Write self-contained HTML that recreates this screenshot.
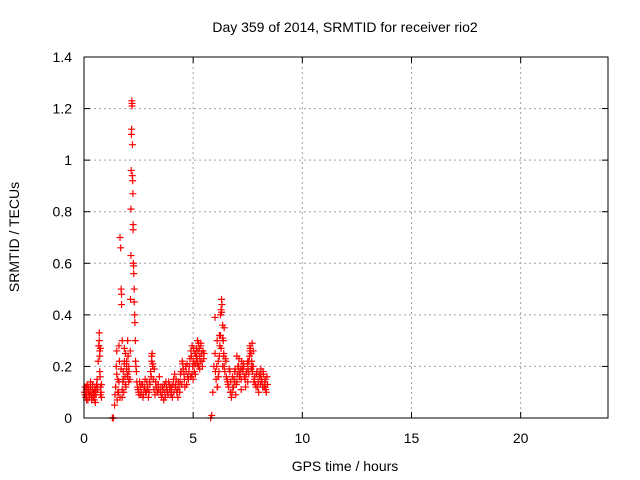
<!DOCTYPE html>
<html><head><meta charset="utf-8"><style>
body{margin:0;background:#fff;width:640px;height:480px;overflow:hidden}
svg{display:block;font-family:"Liberation Sans",sans-serif}
</style></head><body>
<svg id="chart" width="640" height="480">
<rect width="640" height="480" fill="#fff"/>
<text x="345" y="32" font-size="14" text-anchor="middle">Day 359 of 2014, SRMTID for receiver rio2</text>
<g id="grid"></g>
<g id="ticks"></g>
<g id="marks"></g>
<rect x="84" y="57" width="524" height="361" fill="none" stroke="#000" stroke-width="1"/>
<text x="345" y="471" font-size="14" text-anchor="middle">GPS time / hours</text>
<text x="19" y="237" font-size="14" text-anchor="middle" transform="rotate(-90 19 237)">SRMTID / TECUs</text>
</svg>
<script>
const xTicks=[0,5,10,15,20];
const yTicks=[0,0.2,0.4,0.6,0.8,1,1.2,1.4];
const yLabels=["0","0.2","0.4","0.6","0.8","1","1.2","1.4"];
const times=[0.02,0.05,0.08,0.1,0.12,0.15,0.18,0.2,0.22,0.25,0.28,0.3,0.33,0.35,0.38,0.4,0.43,0.45,0.48,0.5,0.52,0.55,0.58,0.6,0.62,0.65,0.68,0.7,0.7,0.72,0.72,0.74,0.75,0.75,0.78,0.8,0.8,
1.3,1.32,1.35,1.4,1.42,1.45,1.48,1.5,1.52,1.55,1.58,1.6,1.62,1.65,1.68,1.7,1.72,1.72,1.75,1.75,1.78,1.8,1.82,1.85,1.88,1.9,1.92,1.95,1.98,2.0,2.02,2.05,
2.1,2.12,2.13,2.15,2.15,2.16,2.17,2.18,2.19,2.2,2.2,2.21,2.22,2.23,2.24,2.25,2.25,2.26,2.27,2.28,2.3,2.3,2.32,2.33,2.35,2.36,2.38,2.4,
2.45,2.5,2.55,2.6,2.65,2.7,2.75,2.8,2.85,2.9,2.95,3.0,3.05,3.1,3.12,3.15,3.18,3.2,3.25,3.3,3.35,3.4,3.45,
3.5,3.55,3.6,3.65,3.7,3.75,3.8,3.85,3.9,3.95,4.0,4.05,4.1,4.15,4.2,4.25,4.3,4.35,4.4,4.45,4.5,4.55,4.6,4.65,4.7,4.75,
4.8,4.85,4.9,4.95,5.0,5.05,5.1,5.15,5.2,5.25,5.3,5.35,5.4,5.45,5.5,5.0,5.1,5.2,5.3,4.9,5.25,5.15,
5.8,5.85,5.9,5.95,6.0,6.05,6.1,6.12,6.15,6.18,6.2,6.22,6.25,6.28,6.3,6.32,6.35,6.38,6.4,6.42,6.45,6.5,6.25,6.3,6.35,6.4,6.1,6.0,
6.55,6.6,6.65,6.7,6.75,6.8,6.85,6.9,6.95,7.0,7.05,7.1,7.15,7.2,7.25,7.3,7.35,7.4,7.45,7.5,7.55,7.6,7.65,7.7,7.75,7.8,7.85,7.9,7.95,8.0,8.05,8.1,8.15,8.2,8.25,8.3,8.35,8.4,7.6,7.7,7.5,7.2,7.0,8.1,8.3,
0.05,0.12,0.18,0.25,0.3,0.36,0.42,0.48,0.55,0.62,0.1,0.2,0.35,0.5,0.68,0.72,0.76,
1.45,1.5,1.55,1.6,1.65,1.7,1.75,1.8,1.85,1.9,1.95,2.0,2.05,1.85,1.95,2.05,
2.42,2.48,2.52,2.58,2.62,2.68,2.72,2.78,2.82,2.88,2.92,2.98,3.02,3.08,3.22,3.28,3.32,3.38,3.42,3.1,3.15,
3.52,3.58,3.62,3.68,3.72,3.78,3.82,3.88,3.92,3.98,4.02,4.08,4.12,4.18,4.22,4.28,4.32,4.38,4.42,4.48,4.52,4.58,4.62,4.68,4.72,4.78,
4.82,4.88,4.92,4.98,5.02,5.08,5.12,5.18,5.22,5.28,5.32,5.38,5.42,5.48,4.95,5.05,5.15,5.35,
6.02,6.08,6.15,6.2,6.28,6.35,6.42,6.48,6.52,6.58,
6.62,6.68,6.72,6.78,6.82,6.88,6.92,6.98,7.02,7.08,7.12,7.18,7.22,7.28,7.32,7.38,7.42,7.48,7.52,7.58,7.62,7.68,7.72,7.78,7.82,7.88,7.92,7.98,8.02,8.08,8.12,8.18,8.22,8.28,8.32,8.38,7.55,7.65,7.75,6.9,7.1];
const values=[0.1,0.12,0.08,0.11,0.09,0.13,0.07,0.1,0.12,0.08,0.1,0.14,0.09,0.07,0.11,0.13,0.08,0.1,0.09,0.12,0.06,0.11,0.13,0.15,0.12,0.22,0.28,0.3,0.33,0.26,0.18,0.16,0.12,0.27,0.1,0.13,0.08,
0.0,0.0,0.0,0.05,0.09,0.12,0.2,0.26,0.07,0.15,0.1,0.28,0.22,0.7,0.66,0.5,0.48,0.44,0.08,0.3,0.14,0.18,0.1,0.22,0.16,0.25,0.12,0.2,0.17,0.3,0.24,0.14,
0.15,0.26,0.46,0.63,0.81,0.96,1.1,1.12,1.23,1.22,1.21,0.94,1.06,0.92,0.87,0.75,0.73,0.6,0.59,0.56,0.5,0.45,0.4,0.37,0.3,0.22,0.2,0.18,
0.12,0.1,0.14,0.09,0.13,0.08,0.11,0.15,0.1,0.12,0.08,0.14,0.18,0.22,0.25,0.2,0.15,0.11,0.09,0.12,0.1,0.13,0.16,
0.1,0.08,0.12,0.07,0.1,0.14,0.11,0.09,0.13,0.12,0.1,0.08,0.15,0.17,0.13,0.1,0.08,0.12,0.14,0.18,0.22,0.19,0.15,0.2,0.13,0.16,
0.18,0.23,0.26,0.28,0.22,0.18,0.25,0.27,0.3,0.2,0.24,0.28,0.22,0.26,0.25,0.15,0.17,0.21,0.19,0.16,0.29,0.23,
0.0,0.01,0.1,0.2,0.25,0.15,0.3,0.12,0.22,0.18,0.32,0.28,0.4,0.42,0.46,0.44,0.36,0.3,0.25,0.2,0.18,0.22,0.32,0.41,0.31,0.24,0.12,0.39,
0.15,0.13,0.19,0.1,0.08,0.16,0.12,0.18,0.09,0.14,0.2,0.23,0.17,0.15,0.19,0.21,0.16,0.12,0.18,0.22,0.17,0.28,0.25,0.29,0.2,0.15,0.13,0.17,0.12,0.1,0.16,0.19,0.14,0.18,0.12,0.15,0.1,0.13,0.26,0.2,0.14,0.11,0.24,0.17,0.12,
0.09,0.07,0.11,0.09,0.12,0.08,0.1,0.07,0.09,0.11,0.12,0.1,0.08,0.1,0.28,0.24,0.09,
0.12,0.17,0.1,0.14,0.08,0.19,0.11,0.15,0.21,0.13,0.19,0.16,0.2,0.27,0.22,0.18,
0.14,0.11,0.09,0.12,0.1,0.13,0.09,0.12,0.1,0.14,0.11,0.1,0.13,0.16,0.19,0.14,0.12,0.1,0.11,0.24,0.21,
0.12,0.09,0.11,0.13,0.08,0.12,0.1,0.14,0.11,0.09,0.12,0.13,0.1,0.12,0.15,0.11,0.14,0.1,0.17,0.13,0.21,0.17,0.12,0.18,0.21,0.15,
0.2,0.16,0.24,0.2,0.27,0.25,0.21,0.23,0.26,0.27,0.22,0.25,0.2,0.23,0.17,0.21,0.24,0.29,
0.18,0.2,0.16,0.24,0.27,0.2,0.35,0.23,0.16,0.14,
0.12,0.18,0.14,0.1,0.12,0.15,0.19,0.13,0.17,0.2,0.16,0.19,0.22,0.18,0.2,0.15,0.17,0.21,0.19,0.24,0.27,0.22,0.18,0.14,0.16,0.12,0.18,0.14,0.17,0.13,0.15,0.12,0.17,0.14,0.11,0.16,0.22,0.19,0.26,0.14,0.18];
const X0=84,X1=608,Y0=418,Y1=57;
const xs=t=>X0+t*(X1-X0)/24;
const ys=v=>Y0-v*(Y0-Y1)/1.4;
const NS="http://www.w3.org/2000/svg";
const grid=document.getElementById('grid'),ticks=document.getElementById('ticks'),marks=document.getElementById('marks');
function mk(tag,attrs,parent){const e=document.createElementNS(NS,tag);for(const k in attrs)e.setAttribute(k,attrs[k]);parent.appendChild(e);return e;}
xTicks.forEach(t=>{const x=xs(t);
 if(t>0){const g=mk('line',{x1:x,x2:x,y1:Y1,y2:Y0,stroke:'#a0a0a0','stroke-dasharray':'2,3'},grid);
 
 }
 mk('line',{x1:x,x2:x,y1:Y0,y2:Y0-6,stroke:'#000'},ticks);
 mk('line',{x1:x,x2:x,y1:Y1,y2:Y1+6,stroke:'#000'},ticks);
 const l=mk('text',{x:x,y:Y0+25,'font-size':14,'text-anchor':'middle'},ticks);l.textContent=t;
 
 });
yTicks.forEach((v,i)=>{const y=ys(v);
 if(v>0&&v<1.4){const g=mk('line',{x1:X0,x2:X1,y1:y,y2:y,stroke:'#a0a0a0','stroke-dasharray':'2,3'},grid);
 
 }
 mk('line',{x1:X0,x2:X0+6,y1:y,y2:y,stroke:'#000'},ticks);
 mk('line',{x1:X1,x2:X1-6,y1:y,y2:y,stroke:'#000'},ticks);
 const l=mk('text',{x:X0-12,y:y+5,'font-size':14,'text-anchor':'end'},ticks);l.textContent=yLabels[i];
 
 });
times.forEach((t,i)=>{const x=xs(t),y=ys(values[i]);
 const p=mk('path',{d:`M${x-3.5},${y}H${x+3.5}M${x},${y-3.5}V${y+3.5}`,stroke:'#f00','stroke-width':1.2,fill:'none'},marks);
 
 });
</script>
</body></html>
